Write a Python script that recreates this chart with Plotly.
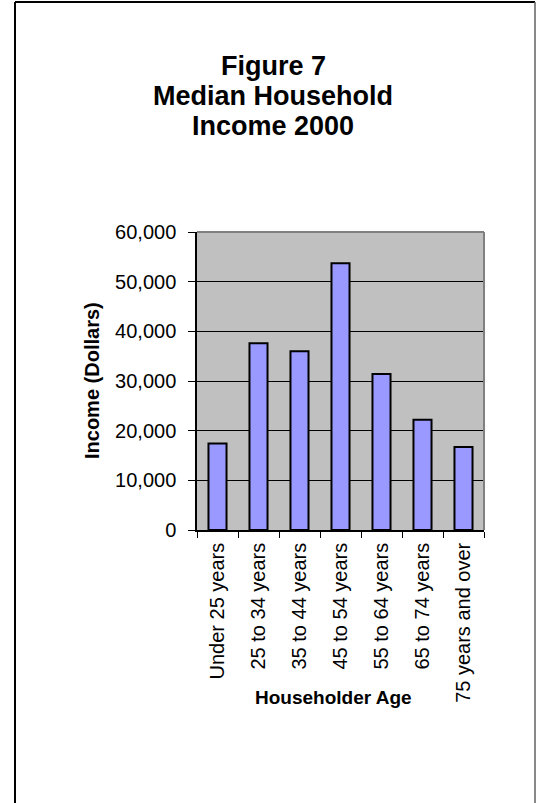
import plotly.graph_objects as go

categories = ["Under 25 years", "25 to 34 years", "35 to 44 years", "45 to 54 years",
              "55 to 64 years", "65 to 74 years", "75 years and over"]
income = [17400, 37600, 36000, 53700, 31400, 22200, 16700]
y_ticks = [0, 10000, 20000, 30000, 40000, 50000, 60000]
title_lines = ["Figure 7", "Median Household", "Income 2000"]
x_title = "Householder Age"
y_title = "Income (Dollars)"

W, H = 536, 803
L, R, T, B = 197, 484, 232, 530
pw, ph = R - L, B - T

def px(x):
    return (x - L) / pw

def py(y):
    return (B - y) / ph

FONT = "Liberation Sans, Arial, sans-serif"

fig = go.Figure(go.Bar(
    x=categories, y=income,
    marker=dict(color="#9999FF", line=dict(color="black", width=2)),
    width=0.44,
))

annotations = []
for line, yc in zip(title_lines, [66, 96, 126]):
    annotations.append(dict(text=f"<b>{line}</b>", x=px(273), y=py(yc), xref="paper", yref="paper",
                            showarrow=False, xanchor="center", yanchor="middle",
                            font=dict(family=FONT, size=27, color="black")))
annotations.append(dict(text=f"<b>{y_title}</b>", x=px(92), y=py(381), xref="paper", yref="paper",
                        showarrow=False, textangle=-90, xanchor="center", yanchor="middle",
                        font=dict(family=FONT, size=20, color="black")))
annotations.append(dict(text=f"<b>{x_title}</b>", x=px(333), y=py(697), xref="paper", yref="paper",
                        showarrow=False, xanchor="center", yanchor="middle",
                        font=dict(family=FONT, size=19, color="black")))

shapes = [
    # plot area grey border top and right
    dict(type="line", xref="paper", yref="paper", x0=0, x1=1, y0=1, y1=1,
         line=dict(color="#808080", width=2)),
    dict(type="line", xref="paper", yref="paper", x0=1, x1=1, y0=0, y1=1,
         line=dict(color="#808080", width=2)),
    # outer frame
    dict(type="line", xref="paper", yref="paper", x0=px(15), x1=px(15), y0=py(2), y1=py(820),
         line=dict(color="black", width=2)),
    dict(type="line", xref="paper", yref="paper", x0=px(15), x1=px(535), y0=py(2), y1=py(2),
         line=dict(color="black", width=2)),
    dict(type="line", xref="paper", yref="paper", x0=px(535), x1=px(535), y0=py(2), y1=py(820),
         line=dict(color="#606060", width=1.5)),
]

fig.update_layout(
    width=W, height=H,
    margin=dict(l=L, r=W - R, t=T, b=H - B, pad=0),
    paper_bgcolor="white", plot_bgcolor="#C0C0C0",
    showlegend=False,
    font=dict(family=FONT, size=20, color="black"),
    annotations=annotations, shapes=shapes,
)
fig.update_xaxes(
    type="category", tickangle=-90, ticks="outside", tickson="boundaries",
    ticklen=6, tickcolor="black", tickwidth=1, ticklabelstandoff=3,
    showline=True, linecolor="black", linewidth=1.5, showgrid=False,
    tickfont=dict(family=FONT, size=20, color="black"),
)
fig.update_yaxes(
    range=[0, 60000], tickvals=y_ticks, tickformat=",", ticks="outside",
    ticklen=7, tickcolor="black", tickwidth=1, ticklabelstandoff=8,
    showline=True, linecolor="black", linewidth=1.5,
    showgrid=True, gridcolor="black", gridwidth=1, zeroline=False,
    tickfont=dict(family=FONT, size=20, color="black"),
)

fig.write_html("out.html")
